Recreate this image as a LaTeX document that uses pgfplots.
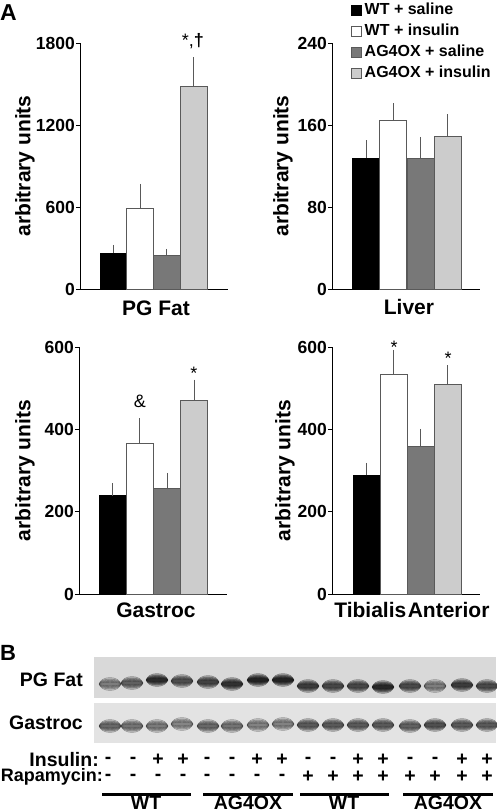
\documentclass[border=0pt]{standalone}
\usepackage{pgfplots}
\pgfplotsset{compat=1.18}
\usepackage{fontspec}
\setmainfont{Liberation Sans}
\definecolor{dgray}{gray}{0.47}
\definecolor{lgray}{gray}{0.80}
\definecolor{edgegray}{gray}{0.35}
\definecolor{gelA}{gray}{0.85}
\definecolor{gelB}{gray}{0.89}
\newcommand{\tickfont}{\fontsize{17.5}{18}\selectfont\bfseries}
\newcommand{\labfont}{\fontsize{21}{22}\selectfont\bfseries}
\newcommand{\annfont}{\fontsize{18}{18}\selectfont}
\newcommand{\gelfont}{\fontsize{19.5}{20}\selectfont\bfseries}
\pgfplotsset{
  panel/.style={
    scale only axis, width=148pt, height=246pt, anchor=south west,
    axis lines*=left, xmin=0, xmax=148, ymin=0, clip=false,
    xtick=\empty, ytick align=outside, major tick length=4pt,
    tick style={black, line width=0.8pt},
    axis line style={black, line width=0.9pt},
    ybar, bar width=27, bar shift=0pt,
    yticklabel style={font=\tickfont, inner sep=1pt},
    /pgf/number format/assume math mode=true,
    /pgf/number format/1000 sep={},
    ylabel={arbitrary units},
    ylabel style={font=\labfont, anchor=center},
    xlabel style={font=\labfont, anchor=base},
    error bars/y dir=plus, error bars/y explicit,
    error bars/error bar style={edgegray, line width=0.7pt},
    error bars/error mark options={edgegray, line width=0.7pt, mark size=3.5pt},
    legend image code/.code={\draw[#1] (0pt,-5pt) rectangle (10pt,5pt);},
  },
  b1/.style={fill=black, draw=black, line width=0.6pt},
  b2/.style={fill=white, draw=edgegray, line width=0.6pt},
  b3/.style={fill=dgray, draw=edgegray, line width=0.6pt},
  b4/.style={fill=lgray, draw=edgegray, line width=0.6pt},
  band/.style={scatter, only marks, mark=*, point meta=explicit, opacity=0.3,
    scatter/use mapped color={fill=mapped color, draw=none}},
}
\begin{document}
\begin{tikzpicture}
\useasboundingbox (0pt,0pt) rectangle (496pt,-812pt);
\node[anchor=base west, inner sep=0pt, font=\fontsize{23}{23}\selectfont\bfseries] at (0pt,-20pt) {A};
\node[anchor=base west, inner sep=0pt, font=\fontsize{22}{22}\selectfont\bfseries] at (0pt,-660pt) {B};

% ---- PG Fat
\begin{axis}[panel, at={(80pt,-289pt)}, ymax=1800, ytick={0,600,1200,1800},
  ylabel style={at={(axis description cs:-0.372,0.5)}},
  xlabel={PG Fat}, xlabel style={at={(axis description cs:0.514,0)}, yshift=-26pt}]
\addplot[b1] coordinates {(33.4,263) +- (0,34)};
\addplot[b2] coordinates {(60.1,591) +- (0,153)};
\addplot[b3] coordinates {(86.8,243) +- (0,25)};
\addplot[b4] coordinates {(113.4,1484) +- (0,185)};
\node[anchor=base, font=\annfont] at (axis cs:113,1778) {*,\textbf{†}};
\end{axis}

% ---- Liver
\begin{axis}[panel, at={(332pt,-289pt)}, ymax=240, ytick={0,80,160,240},
  ylabel style={at={(axis description cs:-0.331,0.5)}},
  xlabel={Liver}, xlabel style={at={(axis description cs:0.52,0)}, yshift=-25pt},
  legend style={at={(axis description cs:0.128,1.171)}, anchor=north west, draw=none, fill=none,
    font=\fontsize{16}{16}\selectfont\bfseries, row sep=3pt, inner sep=0pt,
    nodes={text height=11pt, text depth=3pt, inner sep=2pt},
    /tikz/every odd column/.append style={column sep=1pt}},
  legend cell align=left]
\addplot[b1] coordinates {(34,127.8) +- (0,13.7)};
\addplot[b2] coordinates {(61,164.3) +- (0,13.7)};
\addplot[b3] coordinates {(88.3,127.8) +- (0,17.3)};
\addplot[b4] coordinates {(115.3,148.7) +- (0,18.2)};
\legend{WT + saline, WT + insulin, AG4OX + saline, AG4OX + insulin}
\end{axis}

% ---- Gastroc
\begin{axis}[panel, at={(79pt,-594pt)}, height=247pt, ymax=600, ytick={0,200,400,600},
  ylabel style={at={(axis description cs:-0.365,0.5)}},
  xlabel={Gastroc}, xlabel style={at={(axis description cs:0.52,0)}, yshift=-23pt}]
\addplot[b1] coordinates {(33.7,239) +- (0,21)};
\addplot[b2] coordinates {(60.7,365) +- (0,54)};
\addplot[b3] coordinates {(88,257.5) +- (0,28)};
\addplot[b4] coordinates {(115,470.5) +- (0,42)};
\node[anchor=base, font=\annfont] at (axis cs:61,454) {\&};
\node[anchor=base, font=\annfont] at (axis cs:115,521) {*};
\end{axis}

% ---- Tibialis Anterior
\begin{axis}[panel, at={(332pt,-594pt)}, height=247pt, ymax=600, ytick={0,200,400,600},
  ylabel style={at={(axis description cs:-0.318,0.5)}},
  xlabel={Tibialis\hspace{1.5pt}Anterior}, xlabel style={at={(axis description cs:0.54,0)}, yshift=-23pt}]
\addplot[b1] coordinates {(34.3,288.3) +- (0,22)};
\addplot[b2] coordinates {(61.7,534.4) +- (0,50)};
\addplot[b3] coordinates {(88.7,358.7) +- (0,34)};
\addplot[b4] coordinates {(115.3,508.5) +- (0,39)};
\node[anchor=base, font=\annfont] at (axis cs:62,584) {*};
\node[anchor=base, font=\annfont] at (axis cs:116,557) {*};
\end{axis}

% ---- Blot panel B
\pgfplotstableread{
x    y     c
110 -684  0.50
132 -683  0.66
157 -680  0.95
182 -681  0.76
208 -682  0.82
232 -684  0.92
258 -680  1.00
283 -680  1.00
308 -686  0.86
333 -686  0.80
358 -686  0.80
383 -687  0.97
410 -686  0.78
435 -686  0.50
462 -685  0.86
487 -686  0.78
110 -726  0.62
132 -726  0.56
157 -726  0.52
182 -724  0.46
208 -726  0.62
232 -726  0.56
258 -725  0.48
283 -724  0.48
308 -725  0.70
333 -725  0.70
358 -725  0.70
383 -725  0.70
410 -726  0.66
435 -725  0.76
462 -725  0.70
487 -725  0.70
}\bands
\begin{axis}[scale only axis, width=402pt, height=158pt, anchor=south west, at={(94pt,-812pt)},
  xmin=94, xmax=496, ymin=-812, ymax=-654, axis lines=none, clip=false,
  colormap={gel}{gray(0cm)=(0.85); gray(1cm)=(0.0)}, point meta min=0, point meta max=1]
\addplot[fill=gelA, draw=none] coordinates {(94,-698) (496,-698) (496,-657) (94,-657)} -- cycle;
\addplot[fill=gelB, draw=none] coordinates {(94,-743) (496,-743) (496,-703) (94,-703)} -- cycle;
\addplot[band, mark size=5pt, mark options={xscale=2.1, yscale=1.3}] table[x=x, y=y, meta=c] {\bands};
\addplot[band, mark size=5pt, mark options={xscale=2.15, yscale=1.0}] table[x=x, y=y, meta=c] {\bands};
\addplot[band, mark size=5pt, mark options={xscale=2.2, yscale=0.75}] table[x=x, y=y, meta=c] {\bands};
\addplot[band, mark size=5pt, mark options={xscale=2.2, yscale=0.55}] table[x=x, y=y, meta=c] {\bands};
\addplot[band, mark size=5pt, mark options={xscale=2.1, yscale=0.35}] table[x=x, y=y, meta=c] {\bands};
% group lines
\addplot[black, line width=3pt] coordinates {(102,-794) (191,-794)};
\addplot[black, line width=3pt] coordinates {(203,-794) (293,-794)};
\addplot[black, line width=3pt] coordinates {(300,-794) (389,-794)};
\addplot[black, line width=3pt] coordinates {(403,-794) (493,-794)};
% treatment rows
\foreach \x/\i/\r in {108/-/-,133/-/-,158/+/-,183/+/-,207/-/-,232/-/-,257/+/-,282/+/-,308/-/+,333/-/+,358/+/+,383/+/+,410/-/+,435/-/+,462/+/+,487/+/+}{
  \edef\temp{\noexpand\node[font=\noexpand\gelfont, anchor=center, inner sep=0pt] at (axis cs:\x,-760) {\i};
    \noexpand\node[font=\noexpand\gelfont, anchor=center, inner sep=0pt] at (axis cs:\x,-777) {\r};}
  \temp
}
\node[font=\gelfont, anchor=base, inner sep=0pt] at (axis cs:146,-809) {WT};
\node[font=\gelfont, anchor=base, inner sep=0pt] at (axis cs:248,-809) {AG4OX};
\node[font=\gelfont, anchor=base, inner sep=0pt] at (axis cs:344,-809) {WT};
\node[font=\gelfont, anchor=base, inner sep=0pt] at (axis cs:448,-809) {AG4OX};
\end{axis}
\node[font=\gelfont, anchor=east, inner sep=0pt] at (83pt,-680pt) {PG Fat};
\node[font=\gelfont, anchor=east, inner sep=0pt] at (83pt,-723pt) {Gastroc};
\node[font=\gelfont, anchor=east, inner sep=0pt] at (99pt,-760pt) {Insulin:};
\node[font=\fontsize{18}{18}\selectfont\bfseries, anchor=east, inner sep=0pt] at (103pt,-777pt) {Rapamycin:};
\end{tikzpicture}
\end{document}
